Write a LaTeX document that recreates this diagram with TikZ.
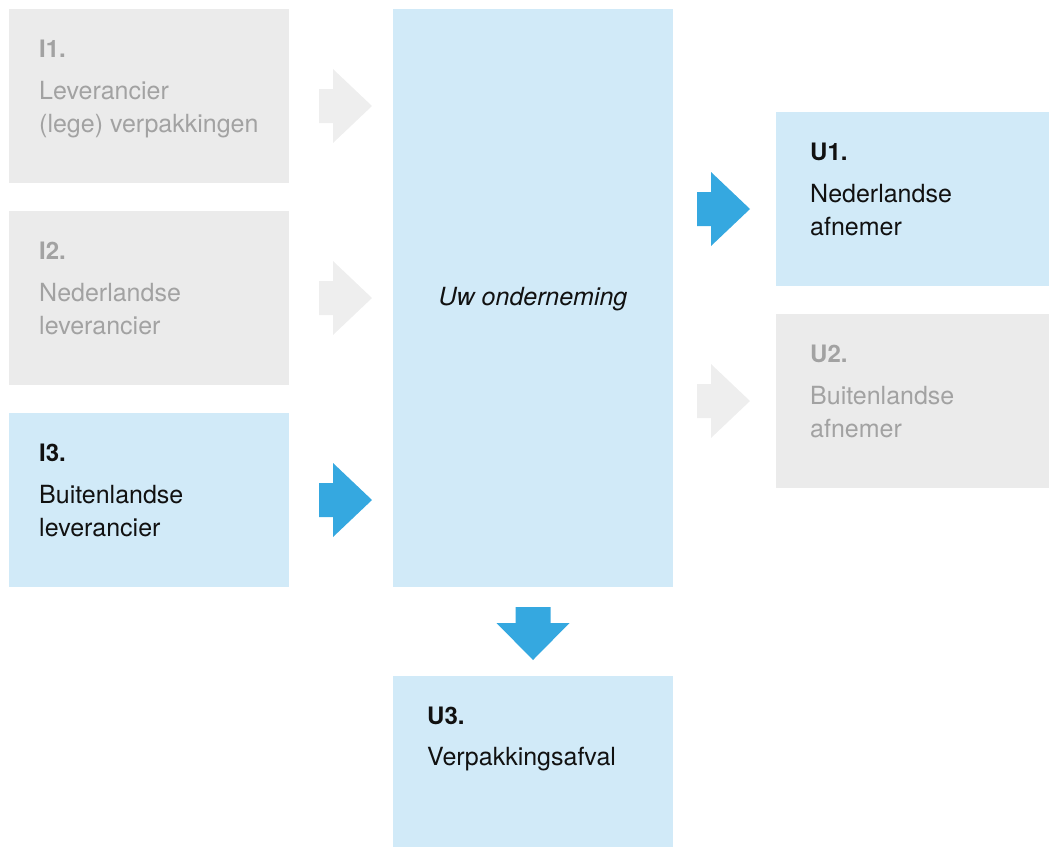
\documentclass[tikz,border=0pt]{standalone}
\usepackage{fontspec}
\setmainfont{TeX Gyre Heros}
\definecolor{grayfill}{HTML}{EBEBEB}
\definecolor{grayarrow}{HTML}{EEEEEE}
\definecolor{graytext}{HTML}{A2A2A2}
\definecolor{bluefill}{HTML}{D1EAF8}
\definecolor{bluearrow}{HTML}{35A8E0}
\definecolor{darktext}{HTML}{111111}
\begin{document}
\begin{tikzpicture}[x=1pt,y=-1pt,
  box/.style={draw=none,inner sep=0,outer sep=0,minimum width=280pt,minimum height=174pt,anchor=north west},
  graybox/.style={box,fill=grayfill},
  bluebox/.style={box,fill=bluefill},
  lbl/.style={anchor=base west,inner sep=0,font=\fontsize{24}{28}\selectfont\bfseries},
  txt/.style={anchor=base west,inner sep=0,align=left,font=\fontsize{25}{33}\selectfont},
  pics/rarrow/.style={code={\fill[#1] (0,-17) -- (14,-17) -- (14,-37) -- (53,0) -- (14,37) -- (14,17) -- (0,17) -- cycle;}},
  pics/darrow/.style={code={\fill[#1] (-17.5,0) -- (17.5,0) -- (17.5,16) -- (36.5,16) -- (0,53) -- (-36.5,16) -- (-17.5,16) -- cycle;}}
]
\useasboundingbox (0,0) rectangle (1049,847);
% boxes
\node[graybox] (i1) at (9,9) {};
\node[graybox] (i2) at (9,211) {};
\node[bluebox] (i3) at (9,413) {};
\node[bluebox,minimum height=578pt] (uw) at (393,9) {};
\node[bluebox,minimum width=273pt] (u1) at (776,112) {};
\node[graybox,minimum width=273pt] (u2) at (776,314) {};
\node[bluebox,minimum height=171pt] (u3) at (393,676) {};
% texts (multi-line nodes are placed at the baseline of their last line)
\node[lbl,text=graytext] (i1l) at (39,57) {I1.};
\node[txt,text=graytext] (i1t) at (39,132) {Leverancier\\(lege) verpakkingen};
\node[lbl,text=graytext] (i2l) at (39,259) {I2.};
\node[txt,text=graytext] (i2t) at (39,334) {Nederlandse\\leverancier};
\node[lbl,text=darktext] (i3l) at (39,461) {I3.};
\node[txt,text=darktext] (i3t) at (39,536) {Buitenlandse\\leverancier};
\node[anchor=base,inner sep=0,font=\fontsize{25}{28}\selectfont\itshape,text=darktext] (uwt) at (533,305) {Uw onderneming};
\node[lbl,text=darktext] (u1l) at (810,160) {U1.};
\node[txt,text=darktext] (u1t) at (810,235) {Nederlandse\\afnemer};
\node[lbl,text=graytext] (u2l) at (810,362) {U2.};
\node[txt,text=graytext] (u2t) at (810,437) {Buitenlandse\\afnemer};
\node[lbl,text=darktext] (u3l) at (427,724) {U3.};
\node[txt,text=darktext] (u3t) at (427,765) {Verpakkingsafval};
% arrows
\coordinate (a1) at (319,106);
\coordinate (a2) at (319,298);
\coordinate (a3) at (319,500);
\coordinate (a4) at (697,209);
\coordinate (a5) at (697,401);
\coordinate (a6) at (533,607);
\pic at (a1) {rarrow=grayarrow};
\pic at (a2) {rarrow=grayarrow};
\pic at (a3) {rarrow=bluearrow};
\pic at (a4) {rarrow=bluearrow};
\pic at (a5) {rarrow=grayarrow};
\pic at (a6) {darrow=bluearrow};
\end{tikzpicture}
\end{document}
